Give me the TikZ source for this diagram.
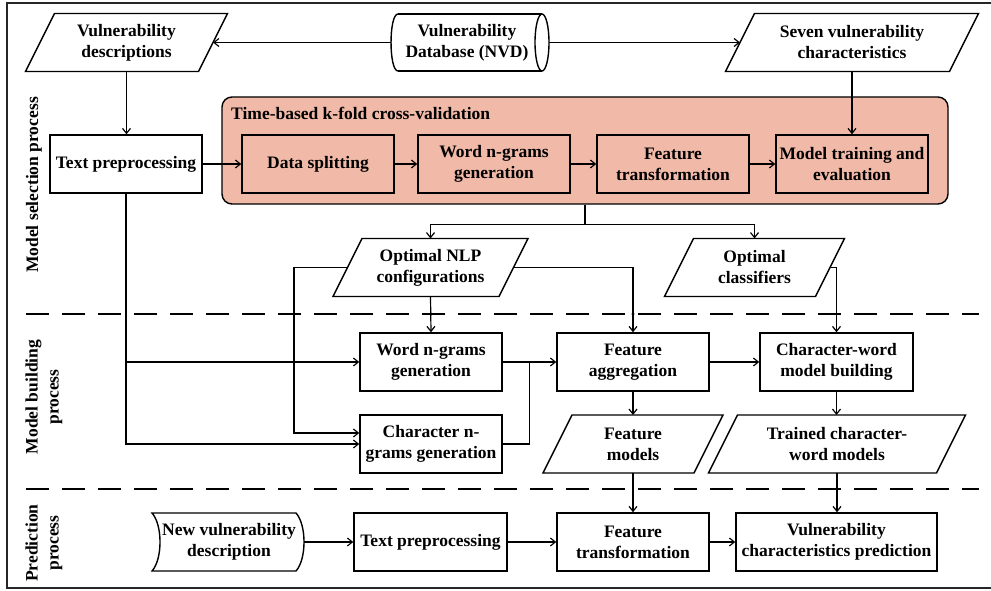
\documentclass[tikz,border=0pt]{standalone}
\usepackage{fontspec}
\setmainfont{Liberation Serif}
\usetikzlibrary{arrows.meta,calc}
\definecolor{salmon}{RGB}{241,185,168}
\tikzset{
  txt/.style={font=\fontsize{17.5}{21}\selectfont\bfseries, align=center, inner sep=0pt},
  boxline/.style={draw=black, line width=1.4pt},
  box/.style={boxline, txt, minimum height=58pt, minimum width=#1},
  conn/.style={line width=1.2pt},
  arr/.style={conn, -{Straight Barb[length=5pt,width=8pt]}},
  sep/.style={line width=1.5pt, dash pattern=on 23pt off 13pt},
  jdot/.style={fill=black},
}
\newcommand{\pgram}[5]{%
  \draw[boxline] (#2-#4+14.5,#3-29) -- (#2+#4+14.5,#3-29) -- (#2+#4-14.5,#3+29) -- (#2-#4-14.5,#3+29) -- cycle;
  \node[txt] (#1) at (#2,#3) {#5};
  \coordinate (#1-l) at (#2-#4,#3);
  \coordinate (#1-r) at (#2+#4,#3);
  \coordinate (#1-t) at (#2,#3-29);
  \coordinate (#1-b) at (#2,#3+29);
}
\begin{document}
\begin{tikzpicture}[x=1pt,y=-1pt]
\useasboundingbox (0,0) rectangle (991,591);
% frame
\draw[line width=1.2pt, black!85] (993,3) -- (7,3) -- (7,588) -- (993,588);

% container
\node[draw=black, line width=1.4pt, fill=salmon, rounded corners=10pt, minimum width=726pt, minimum height=107pt, inner sep=0pt] (cv) at (585,150.5) {};
\node[txt, anchor=west] (cvt) at (231,113) {Time-based k-fold cross-validation};

% top row
\pgram{vd}{126.5}{42.5}{86.5}{Vulnerability\\descriptions}
\pgram{seven}{852}{42.5}{112}{Seven vulnerability\\characteristics}
% NVD cylinder
\draw[boxline] (398,14) -- (542,14);
\draw[boxline] (398,71) -- (542,71);
\draw[boxline] (398,14) .. controls (388.7,14) and (388.7,71) .. (398,71);
\draw[boxline] (542,42.5) ellipse [x radius=7pt, y radius=28.5pt];
\node[txt] (nvd) at (467,42.5) {Vulnerability\\Database (NVD)};
\coordinate (nvd-l) at (391,42.5);
\coordinate (nvd-r) at (549,42.5);

% model selection row
\node[box=152pt] (tp1) at (126,164) {Text preprocessing};
\node[box=152pt] (ds) at (318,164) {Data splitting};
\node[box=152pt] (wg1) at (494,164) {Word n-grams\\generation};
\node[box=152pt] (ft1) at (673,164) {Feature\\transformation};
\node[box=152pt] (mt) at (852,164) {Model training and\\evaluation};

\pgram{nlp}{430.5}{267.5}{83}{Optimal NLP\\configurations}
\pgram{cls}{754.5}{267.5}{75.5}{Optimal\\classifiers}

% model building
\node[box=142pt] (wg2) at (431,362) {Word n-grams\\generation};
\node[box=142pt] (cg) at (431,444) {Character n-\\grams generation};
\node[box=152pt] (fa) at (633,362) {Feature\\aggregation};
\node[box=153pt] (cw) at (836.5,362) {Character-word\\model building};
\pgram{fm}{633}{444}{75.5}{Feature\\models}
\pgram{tr}{837}{444}{114}{Trained character-\\word models}

% prediction
\draw[boxline] (152,513) -- (296,513) .. controls (306.7,513+12) and (306.7,571-12) .. (296,571) -- (152,571) .. controls (162.7,571-12) and (162.7,513+12) .. (152,513) -- cycle;
\node[txt] (nvdesc) at (229,542) {New vulnerability\\description};
\coordinate (nvdesc-r) at (304,542);
\node[box=153pt] (tp2) at (430.5,542) {Text preprocessing};
\node[box=152pt] (ft2) at (633,542) {Feature\\transformation};
\node[box=201pt] (vcp) at (836.5,542) {Vulnerability\\characteristics prediction};

% separators
\coordinate (s1a) at (26,314); \coordinate (s1b) at (979,314);
\coordinate (s2a) at (26,489); \coordinate (s2b) at (979,489);
\draw[sep] (s1a) -- (s1b);
\draw[sep] (s2a) -- (s2b);

% side labels
\node[txt, rotate=90] (lab1) at (34,185) {Model selection process};
\node[txt, rotate=90] (lab2) at (44,397) {Model building\\process};
\node[txt, rotate=90] (lab3) at (44,543) {Prediction\\process};

% connectors top
\draw[arr] (nvd-l) -- (vd-r);
\draw[arr] (nvd-r) -- (seven-l);
\draw[arr] (seven-b) -- (mt.north);
\draw[arr] (vd-b) -- (vd-b |- tp1.north);
\draw[arr] (tp1.east) -- (ds.west);
\draw[arr] (ds.east) -- (wg1.west);
\draw[arr] (wg1.east) -- (ft1.west);
\draw[arr] (ft1.east) -- (mt.west);
\draw[arr] (cv.south) -- ++(0,20) -| (nlp-t);
\draw[arr] (cv.south) -- ++(0,20) -| (cls-t);

% connectors building
\coordinate (colA) at (294,0);
\draw[arr] (nlp-b) -- (wg2.north);
\draw[arr] (nlp-l) -- (nlp-l -| colA) |- ($(cg.west)+(0,-11)$);
\draw[arr] (nlp-r) -| (fa.north);
\draw[arr] (cls-r) -| (cw.north);
\draw[arr] (tp1.south) |- (cg.west);
\draw[arr] (tp1.south |- wg2.west) -- (wg2.west);
\draw[arr] (wg2.east) -- (fa.west);
\draw[conn] (cg.east) -| ($(wg2.east)!0.5!(fa.west)$);
\draw[arr] (fa.east) -- (cw.west);
\draw[arr] (fa.south) -- (fm-t);
\draw[arr] (cw.south) -- (cw.south |- tr-t);
\draw[arr] (fm-b) -- (ft2.north);
\draw[arr] (tr-b) -- (tr-b |- vcp.north);

% prediction connectors
\draw[arr] (nvdesc-r) -- (tp2.west);
\draw[arr] (tp2.east) -- (ft2.west);
\draw[arr] (ft2.east) -- (vcp.west);

% junction dots
\fill[jdot] (294,314) circle (1.6pt);
\fill[jdot] (294,362) circle (1.6pt);
\fill[jdot] (431,314) circle (1.6pt);
\fill[jdot] (633,314) circle (1.6pt);
\end{tikzpicture}
\end{document}
